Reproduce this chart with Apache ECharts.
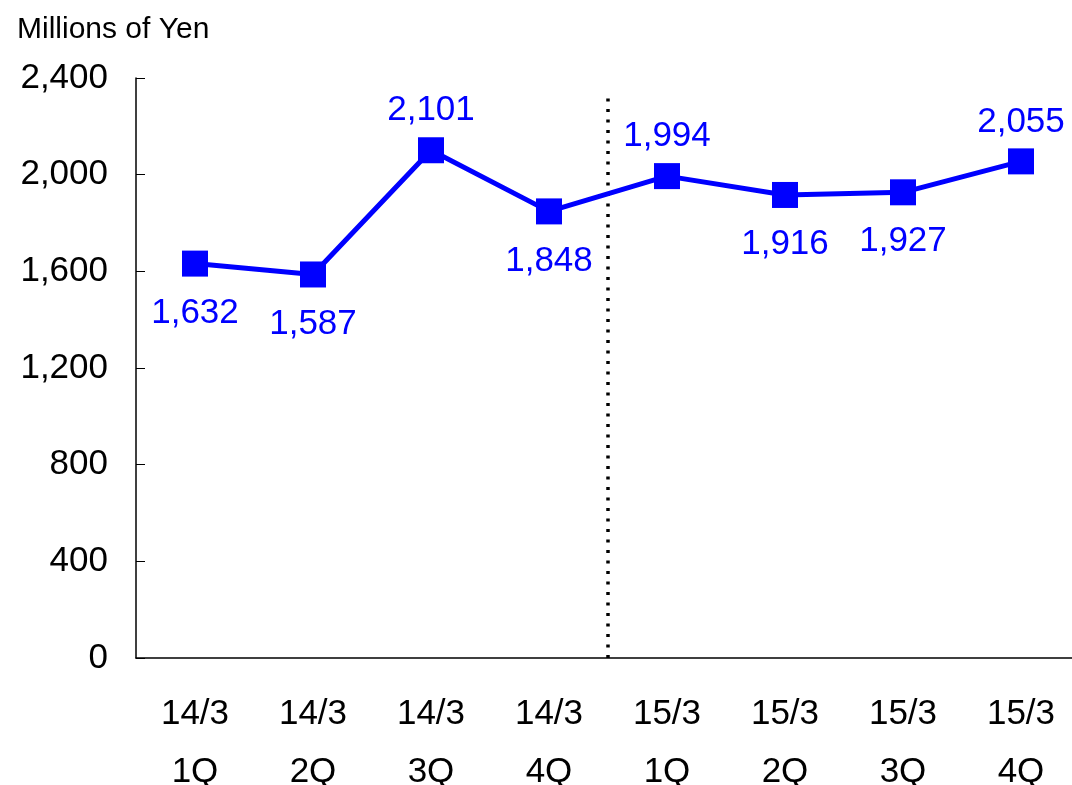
<!DOCTYPE html>
<html>
<head>
<meta charset="utf-8">
<script src="https://cdn.jsdelivr.net/npm/echarts@6/dist/echarts.min.js"></script>
<style>
  html, body { margin: 0; padding: 0; background: #fff; }
  #chart { width: 1072px; height: 785px; }
</style>
</head>
<body>
<div id="chart"></div>
<script>
// data
const categories = ['14/3\n1Q', '14/3\n2Q', '14/3\n3Q', '14/3\n4Q', '15/3\n1Q', '15/3\n2Q', '15/3\n3Q', '15/3\n4Q']
const sales = [1632, 1587, 2101, 1848, 1994, 1916, 1927, 2055]
const labelSide = ['bottom', 'bottom', 'top', 'bottom', 'top', 'bottom', 'bottom', 'top']
const yTicks = [0, 400, 800, 1200, 1600, 2000, 2400]
// fiscal year divider (between 4Q and 1Q), in category units
const dividerX = [4, 4]
const dividerY = [0, 2330]

const narrow = '"Liberation Sans Narrow", "Arial Narrow", "Liberation Sans", Arial, sans-serif'
const blue = '#0000ff'

const chart = echarts.init(document.getElementById('chart'))

chart.setOption({
  animation: false,
  backgroundColor: '#fff',
  title: {
    text: 'Millions of Yen',
    left: 12,
    top: 10,
    textStyle: {
      color: '#000',
      fontFamily: '"Liberation Sans", Arial, sans-serif',
      fontSize: 30,
      fontWeight: 'normal'
    }
  },
  grid: {
    left: 136,
    top: 78,
    width: 944,
    height: 580,
    containLabel: false,
    outerBoundsMode: 'none'
  },
  xAxis: [
    {
      type: 'category',
      data: categories,
      boundaryGap: true,
      axisLine: { lineStyle: { color: '#000', width: 1.5 } },
      axisTick: { inside: true, length: 9, lineStyle: { color: '#000' } },
      axisLabel: {
        color: '#000',
        fontFamily: narrow,
        fontSize: 35,
        lineHeight: 58,
        margin: 27
      },
      splitLine: { show: false }
    },
    {
      type: 'value',
      min: 0,
      max: 8,
      show: false
    }
  ],
  yAxis: {
    type: 'value',
    min: 0,
    max: 2400,
    interval: 400,
    axisLine: { show: true, lineStyle: { color: '#000', width: 1.5 } },
    axisTick: { show: true, inside: true, length: 9, lineStyle: { color: '#000' } },
    axisLabel: {
      color: '#000',
      fontFamily: narrow,
      fontSize: 35,
      margin: 28,
      formatter: v => yTicks.includes(v) ? v.toLocaleString('en-US') : ''
    },
    splitLine: { show: false }
  },
  series: [
    {
      name: 'divider',
      type: 'line',
      xAxisIndex: 1,
      data: dividerX.map((x, i) => [x, dividerY[i]]),
      symbol: 'none',
      silent: true,
      lineStyle: { color: '#000', width: 3.5, type: [3, 7.5] },
      z: 1
    },
    {
      name: 'sales',
      type: 'line',
      data: sales.map((v, i) => ({
        value: v,
        label: {
          position: labelSide[i],
          distance: labelSide[i] === 'top' ? 9 : 19
        }
      })),
      symbol: 'rect',
      symbolSize: 26,
      itemStyle: { color: blue },
      lineStyle: { color: blue, width: 5 },
      label: {
        show: true,
        color: blue,
        fontFamily: narrow,
        fontSize: 35,
        formatter: p => p.value.toLocaleString('en-US')
      },
      z: 3
    }
  ]
})
</script>
</body>
</html>
